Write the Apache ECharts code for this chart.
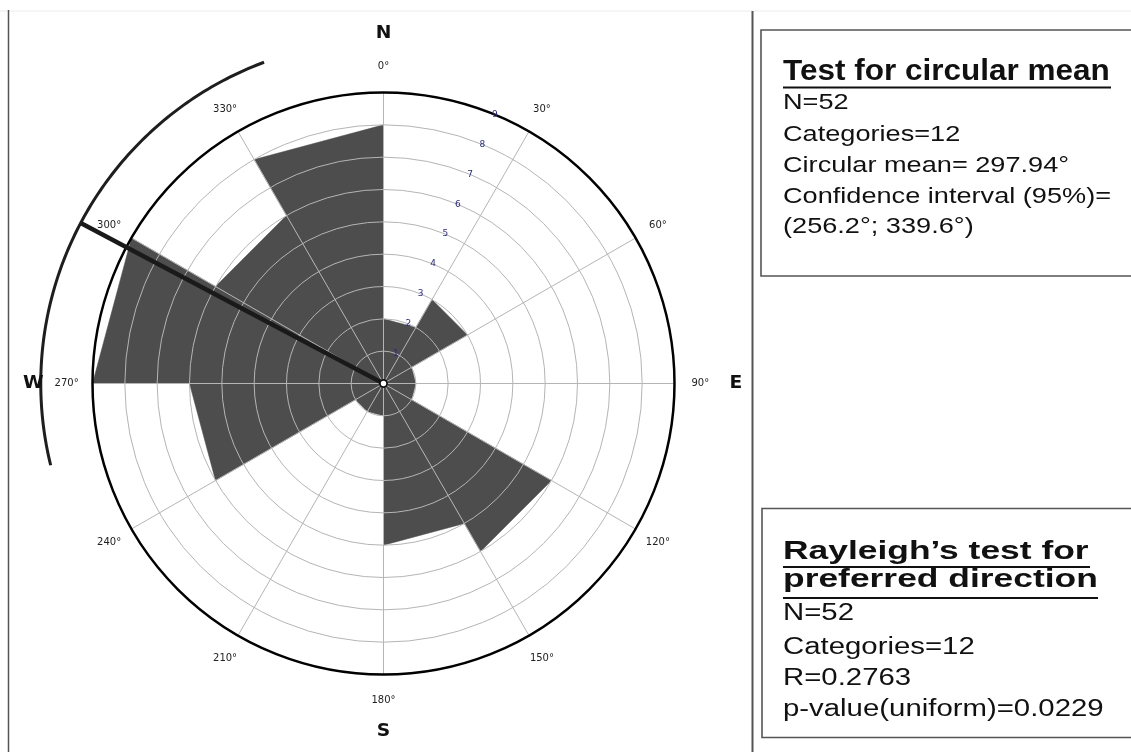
<!DOCTYPE html>
<html>
<head>
<meta charset="utf-8">
<style>
  html, body { margin: 0; padding: 0; background: #ffffff; }
  #chart { width: 1131px; height: 752px; }
</style>
<script src="https://cdn.jsdelivr.net/npm/echarts@6/dist/echarts.min.js"></script>
</head>
<body>
<div id="chart"></div>
<script>
// ---- data -------------------------------------------------------------
// Rose diagram: 12 direction classes of 30°, counts per class
const sectorStarts = [0, 30, 60, 90, 120, 150, 180, 210, 240, 270, 300, 330];
const sectorCounts = [2, 3, 1, 1, 6, 5, 1, 1, 6, 9, 6, 8];
const sectorWidth = 30;

// angular tick labels
const angleTicks = [0, 30, 60, 90, 120, 150, 180, 210, 240, 270, 300, 330];
const angleTickLabels = ['0°', '30°', '60°', '90°', '120°', '150°', '180°', '210°', '240°', '270°', '300°', '330°'];

// radial (count) tick labels
const radialTicks = [1, 2, 3, 4, 5, 6, 7, 8, 9];

// compass letters
const compassLetters = ['N', 'E', 'S', 'W'];
const compassAngles = [0, 90, 180, 270];

// statistics
const circularMean = 297.94;
const confidenceInterval = [256.2, 339.6];

const meanBoxLines = ['N=52', 'Categories=12', 'Circular mean= 297.94°', 'Confidence interval (95%)=', '(256.2°; 339.6°)'];
const rayleighTitle = ['Rayleigh’s test for', 'preferred direction'];
const rayleighLines = ['N=52', 'Categories=12', 'R=0.2763', 'p-value(uniform)=0.0229'];

// ---- layout / style constants ------------------------------------------
const CENTER = [383.5, 383.5];
const RADIUS = 291;
const RMAX = 9;
const LABEL_R = 9.8;          // angle labels, in count units
const RADIAL_LABEL_ANGLE = 22.5;
const COMPASS_R = [10.83, 10.9, 10.78, 10.83];
const MEAN_R = 10.6;          // mean line and confidence arc radius
const BAR_COLOR = '#4d4d4d';
const GRID_COLOR = '#b5b5b5';
const SANS = '"Liberation Sans", Arial, sans-serif';
const SMALL = '"DejaVu Sans", Verdana, sans-serif';

const chart = echarts.init(document.getElementById('chart'), null, { renderer: 'canvas' });

function textLine(str, x, baseline, size, weight, scaleX) {
  return {
    type: 'text',
    x: x, y: baseline - 0.355 * size,
    scaleX: scaleX, scaleY: 1,
    originX: 0, originY: 0,
    style: {
      text: str, x: 0, y: 0,
      fill: '#111', font: weight + ' ' + size + 'px ' + SANS,
      align: 'left', verticalAlign: 'middle'
    },
    z: 10
  };
}
function hLine(x1, x2, y, w, color) {
  return { type: 'line', shape: { x1: x1, y1: y, x2: x2, y2: y },
           style: { stroke: color || '#111', lineWidth: w }, z: 10 };
}
function vLine(x, y1, y2, w, color) {
  return { type: 'line', shape: { x1: x, y1: y1, x2: x, y2: y2 },
           style: { stroke: color, lineWidth: w }, z: 10 };
}

const graphics = [];
// frame lines
graphics.push(hLine(0, 1131, 11, 1, '#ececec'));
graphics.push(vLine(8.5, 10, 752, 1.5, '#555'));
graphics.push(vLine(752.5, 11, 752, 2, '#555'));

// box: circular mean test
graphics.push({ type: 'rect', shape: { x: 761, y: 30, width: 420, height: 246 },
  style: { fill: 'none', stroke: '#555', lineWidth: 1.6 }, z: 10 });
graphics.push(textLine('Test for circular mean', 783, 82.5, 30, 'bold', 1.05));
graphics.push(hLine(783, 1111, 87.5, 2));
const box1Base = [110.8, 142.3, 173.4, 204.3, 234.8];
meanBoxLines.forEach((s, i) => graphics.push(textLine(s, 783, box1Base[i], 22.3, 'normal', 1.217)));

// box: Rayleigh test
graphics.push({ type: 'rect', shape: { x: 762, y: 508.5, width: 420, height: 229 },
  style: { fill: 'none', stroke: '#555', lineWidth: 1.6 }, z: 10 });
graphics.push(textLine(rayleighTitle[0], 783, 561.2, 26.5, 'bold', 1.336));
graphics.push(hLine(783, 1090, 567, 2));
graphics.push(textLine(rayleighTitle[1], 783, 589.5, 26.5, 'bold', 1.336));
graphics.push(hLine(783, 1098, 598, 2));
const box2Base = [621.5, 655.5, 687, 717.5];
rayleighLines.forEach((s, i) => graphics.push(textLine(s, 783, box2Base[i], 23.3, 'normal', 1.26)));

const option = {
  backgroundColor: '#ffffff',
  animation: false,
  polar: { center: CENTER, radius: RADIUS },
  angleAxis: {
    type: 'value', min: 0, max: 360, interval: 30,
    startAngle: 90, clockwise: true, z: 4,
    axisLine: { show: true, lineStyle: { color: '#000', width: 2.5 } },
    axisTick: { show: false },
    axisLabel: { show: false },
    splitLine: { show: true, lineStyle: { color: GRID_COLOR, width: 1 } }
  },
  radiusAxis: {
    type: 'value', min: 0, max: RMAX, interval: 1, z: 3,
    axisLine: { show: false },
    axisTick: { show: false },
    axisLabel: { show: false },
    splitLine: { show: true, lineStyle: { color: GRID_COLOR, width: 1 } }
  },
  graphic: graphics,
  series: [
    {
      // wedges of the rose diagram
      name: 'rose', type: 'custom', coordinateSystem: 'polar', z: 1, silent: true,
      data: sectorStarts.map((s, i) => [sectorCounts[i], s]),
      renderItem: function (params, api) {
        const v = api.value(0), a0 = api.value(1), a1 = a0 + sectorWidth;
        const p0 = api.coord([0, a0]);
        const p1 = api.coord([v, a0]);
        const p2 = api.coord([v, a1]);
        return { type: 'polygon', shape: { points: [p0, p1, p2] },
                 style: { fill: BAR_COLOR, stroke: BAR_COLOR, lineWidth: 0.5 } };
      }
    },
    {
      // confidence arc of the mean direction
      name: 'confidence', type: 'custom', coordinateSystem: 'polar', z: 6, silent: true,
      data: [[MEAN_R, confidenceInterval[0], confidenceInterval[1]]],
      dimensions: ['radius', 'angle', 'angle2'],
      renderItem: function (params, api) {
        const r = api.value(0), a0 = api.value(1), a1 = api.value(2);
        const pts = [];
        const n = 120;
        for (let k = 0; k <= n; k++) pts.push(api.coord([r, a0 + (a1 - a0) * k / n]));
        return { type: 'polyline', shape: { points: pts },
                 style: { stroke: '#1e1e1e', lineWidth: 3, fill: null } };
      }
    },
    {
      // mean direction line and centre marker
      name: 'mean', type: 'custom', coordinateSystem: 'polar', z: 7, silent: true,
      data: [[MEAN_R, circularMean]],
      renderItem: function (params, api) {
        const r = api.value(0), a = api.value(1);
        const c = api.coord([0, a]);
        const e = api.coord([r, a]);
        return { type: 'group', children: [
          { type: 'line', shape: { x1: c[0], y1: c[1], x2: e[0], y2: e[1] },
            style: { stroke: '#1a1a1a', lineWidth: 4.5 } },
          { type: 'circle', shape: { cx: c[0], cy: c[1], r: 3.6 },
            style: { fill: '#ffffff', stroke: '#111', lineWidth: 1.8 } }
        ] };
      }
    },
    {
      // angle labels
      name: 'angleLabels', type: 'custom', coordinateSystem: 'polar', z: 6, silent: true,
      data: angleTicks.map(a => [LABEL_R, a]),
      renderItem: function (params, api) {
        const p = api.coord([api.value(0), api.value(1)]);
        return { type: 'text', x: p[0], y: p[1],
          style: { text: angleTickLabels[params.dataIndex], x: 0, y: 0,
                   align: 'center', verticalAlign: 'middle',
                   fill: '#222', font: '10px ' + SMALL } };
      }
    },
    {
      // count labels along the radius
      name: 'radialLabels', type: 'custom', coordinateSystem: 'polar', z: 6, silent: true,
      data: radialTicks.map(k => [k, RADIAL_LABEL_ANGLE]),
      renderItem: function (params, api) {
        const p = api.coord([api.value(0), api.value(1)]);
        return { type: 'text', x: p[0], y: p[1],
          style: { text: String(radialTicks[params.dataIndex]), x: 0, y: 0,
                   align: 'center', verticalAlign: 'middle',
                   fill: '#2c2c7a', font: '9px ' + SMALL } };
      }
    },
    {
      // compass letters
      name: 'compass', type: 'custom', coordinateSystem: 'polar', z: 6, silent: true,
      data: compassAngles.map((a, i) => [COMPASS_R[i], a]),
      renderItem: function (params, api) {
        const p = api.coord([api.value(0), api.value(1)]);
        return { type: 'text', x: p[0], y: p[1], scaleX: 1.1, scaleY: 1,
          style: { text: compassLetters[params.dataIndex], x: 0, y: 0,
                   align: 'center', verticalAlign: 'middle',
                   fill: '#111', font: 'bold 17px ' + SMALL } };
      }
    }
  ]
};

chart.setOption(option);
</script>
</body>
</html>
